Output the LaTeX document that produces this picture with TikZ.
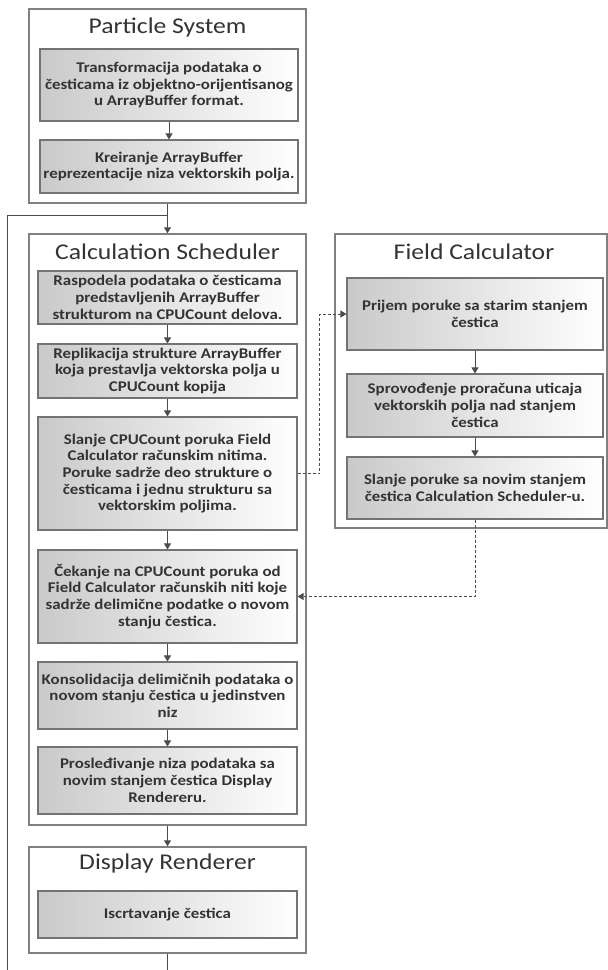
\documentclass[tikz,border=0pt]{standalone}
\usepackage{fontspec}
\setmainfont{Carlito}[FakeStretch=1.14]
\usetikzlibrary{arrows.meta}

\begin{document}
\begin{tikzpicture}[
    x=1pt, y=-1pt,
    every node/.style={align=center, text=black!80, inner sep=2pt},
    frame/.style={draw=black!50, line width=1.4pt, fill=white, minimum width=277pt},
    title/.style={font=\fontsize{22.5}{27}\selectfont},
    task/.style={draw=black!55, line width=1.1pt, left color=black!21, right color=white, minimum width=259pt, font=\bfseries\fontsize{14.8}{16.7}\selectfont},
    arrow/.style={-{Triangle[width=7pt,length=6pt]}, draw=black!70, line width=1pt},
    dasharrow/.style={arrow, densely dashed}
]
\useasboundingbox (0,0) rectangle (608,970);

% Particle System
\node[frame, minimum height=194pt] (PS) at (167.5,106) {};
\node[title] (PStitle) at (167.5,27) {Particle System};
\node[task, minimum width=258pt, minimum height=72pt] (PS1) at (169,85) {Transformacija podataka o\\česticama iz objektno-orijentisanog\\u ArrayBuffer format.};
\node[task, minimum width=258pt, minimum height=53pt] (PS2) at (169,166.5) {Kreiranje ArrayBuffer\\reprezentacije niza vektorskih polja.};

% Calculation Scheduler
\node[frame, minimum height=591pt] (CS) at (167.5,529.5) {};
\node[title] (CStitle) at (167.5,252) {Calculation Scheduler};
\node[task, minimum height=53pt] (CS1) at (167.5,297.5) {Raspodela podataka o česticama\\predstavljenih ArrayBuffer\\strukturom na CPUCount delova.};
\node[task, minimum height=54pt] (CS2) at (167.5,371) {Replikacija strukture ArrayBuffer\\koja prestavlja vektorska polja u\\CPUCount kopija};
\node[task, minimum height=113pt] (CS3) at (167.5,473.5) {Slanje CPUCount poruka Field\\Calculator računskim nitima.\\Poruke sadrže deo strukture o\\česticama i jednu strukturu sa\\vektorskim poljima.};
\node[task, minimum height=93pt] (CS4) at (167.5,596.5) {Čekanje na CPUCount poruka od\\Field Calculator računskih niti koje\\sadrže delimične podatke o novom\\stanju čestica.};
\node[task, minimum height=67pt] (CS5) at (167.5,695.5) {Konsolidacija delimičnih podataka o\\novom stanju čestica u jedinstven\\niz};
\node[task, minimum height=67pt] (CS6) at (167.5,780.5) {Prosleđivanje niza podataka sa\\novim stanjem čestica Display\\Rendereru.};

% Display Renderer
\node[frame, minimum height=106pt] (DR) at (167.5,900) {};
\node[title] (DRtitle) at (167.5,863) {Display Renderer};
\node[task, minimum height=47pt] (DR1) at (167.5,914.5) {Iscrtavanje čestica};

% Field Calculator
\node[frame, minimum width=272pt, minimum height=294pt] (FC) at (471,381) {};
\node[title] (FCtitle) at (474,252) {Field Calculator};
\node[task, minimum width=256pt, minimum height=72pt] (FC1) at (475,314) {Prijem poruke sa starim stanjem\\čestica};
\node[task, minimum width=256pt, minimum height=63pt] (FC2) at (475,405.5) {Sprovođenje proračuna uticaja\\vektorskih polja nad stanjem\\čestica};
\node[task, minimum width=256pt, minimum height=62pt] (FC3) at (475,488) {Slanje poruke sa novim stanjem\\čestica Calculation Scheduler-u.};

% arrows inside the boxes
\draw[arrow] (PS1) -- (PS2);
\draw[arrow] (CS1) -- (CS2);
\draw[arrow] (CS2) -- (CS3);
\draw[arrow] (CS3) -- (CS4);
\draw[arrow] (CS4) -- (CS5);
\draw[arrow] (CS5) -- (CS6);
\draw[arrow] (FC1) -- (FC2);
\draw[arrow] (FC2) -- (FC3);

% arrows between the components
\coordinate (loop) at (7,215);
\draw[arrow] (PS) -- (CS);
\draw[arrow] (CS) -- (DR);
\draw[black!70, line width=1pt] (DR.south) -- ++(0,25) -| (loop) -- (loop -| PS.south);

% messages between the threads
\draw[dasharrow] (CS3.east) -- ++(22,0) |- (FC1.west);
\draw[dasharrow] (FC3.south) |- (CS4.east);

\end{tikzpicture}
\end{document}
